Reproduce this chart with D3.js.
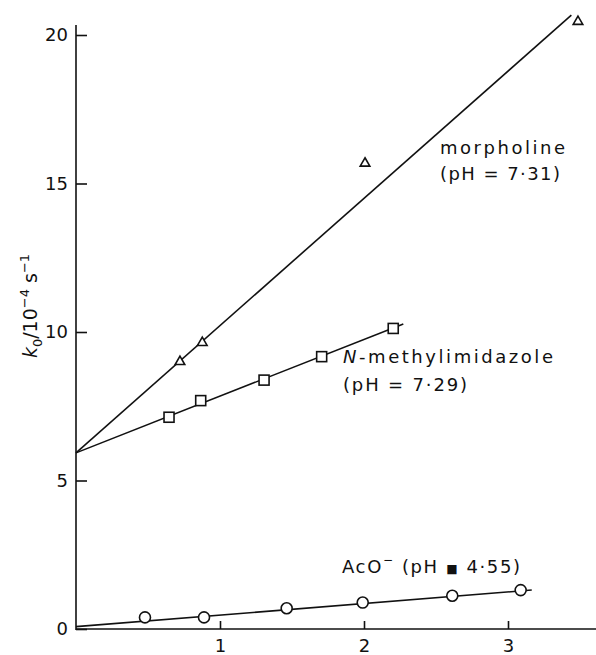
<!DOCTYPE html>
<html>
<head>
<meta charset="utf-8">
<script src="https://cdn.jsdelivr.net/npm/d3@7"></script>
<style>
  body { margin: 0; background: #fff; }
  text { font-family: "DejaVu Sans", sans-serif; fill: #111; }
</style>
</head>
<body>
<svg id="chart" width="596" height="655"></svg>
<script>
// data
const xTicks = [1, 2, 3];
const yTicks = [0, 5, 10, 15, 20];

const morphX = [0.722, 0.877, 2.007, 3.486];
const morphY = [9.0, 9.64, 15.68, 20.45];
const morphFit = {x0: 0, x1: 3.44, b: 5.93, m: 4.285};

const nmiX = [0.646, 0.866, 1.306, 1.706, 2.203];
const nmiY = [7.13, 7.69, 8.38, 9.17, 10.12];
const nmiFit = {x0: 0, x1: 2.273, b: 5.93, m: 1.91};

const acoX = [0.479, 0.889, 1.463, 1.991, 2.613, 3.088];
const acoY = [0.39, 0.39, 0.70, 0.89, 1.12, 1.31];
const acoFit = {x0: 0, x1: 3.165, b: 0.08, m: 0.389};

const svg = d3.select('#chart');

// scales
const x = d3.scaleLinear().domain([0, 1]).range([76, 220]);
const y = d3.scaleLinear().domain([0, 20]).range([629, 35]);

// axes, ticks point inward
const xAxis = svg.append('g')
    .attr('transform', 'translate(0,' + y(0) + ')')
    .call(d3.axisBottom(x).tickValues(xTicks).tickSize(-8).tickPadding(10).tickFormat(d3.format('d')));
xAxis.select('.domain').remove();
xAxis.selectAll('line').attr('stroke', '#111').attr('stroke-width', 1.6);
xAxis.selectAll('text').attr('font-size', 18).attr('fill', '#111');

const yAxis = svg.append('g')
    .attr('transform', 'translate(' + x(0) + ',0)')
    .call(d3.axisLeft(y).tickValues(yTicks).tickSize(-11).tickPadding(8));
yAxis.select('.domain').remove();
yAxis.selectAll('line').attr('stroke', '#111').attr('stroke-width', 1.6);
yAxis.selectAll('text').attr('font-size', 18).attr('fill', '#111');

svg.append('line')
    .attr('x1', x(0)).attr('x2', x(0))
    .attr('y1', y(0) + 1).attr('y2', y(20.34))
    .attr('stroke', '#111').attr('stroke-width', 1.6);
svg.append('line')
    .attr('x1', x(0)).attr('x2', 596)
    .attr('y1', y(0)).attr('y2', y(0))
    .attr('stroke', '#111').attr('stroke-width', 1.6);

// y axis title
const yl = svg.append('text')
    .attr('transform', 'translate(37,306) rotate(-90)')
    .attr('text-anchor', 'middle')
    .attr('font-size', 19);
yl.append('tspan').attr('font-style', 'italic').text('k');
yl.append('tspan').attr('font-size', 13).attr('dy', 5).text('0');
yl.append('tspan').attr('dy', -5).text('/10');
yl.append('tspan').attr('font-size', 13).attr('dy', -8).text('\u22124');
yl.append('tspan').attr('dy', 8).text(' s');
yl.append('tspan').attr('font-size', 13).attr('dy', -8).text('\u22121');

// fitted lines
function fitLine(f) {
  svg.append('line')
      .attr('x1', x(f.x0)).attr('y1', y(f.b + f.m * f.x0))
      .attr('x2', x(f.x1)).attr('y2', y(f.b + f.m * f.x1))
      .attr('stroke', '#111').attr('stroke-width', 1.6);
}
fitLine(morphFit);
fitLine(nmiFit);
fitLine(acoFit);

// markers
svg.selectAll('.tri')
    .data(d3.zip(morphX, morphY))
    .enter().append('path')
    .attr('d', d3.symbol().type(d3.symbolTriangle).size(40))
    .attr('transform', d => 'translate(' + x(d[0]) + ',' + y(d[1]) + ')')
    .attr('fill', '#fff').attr('stroke', '#111').attr('stroke-width', 1.6);

svg.selectAll('.sq')
    .data(d3.zip(nmiX, nmiY))
    .enter().append('rect')
    .attr('x', d => x(d[0]) - 5).attr('y', d => y(d[1]) - 5)
    .attr('width', 10).attr('height', 10)
    .attr('fill', '#fff').attr('stroke', '#111').attr('stroke-width', 1.6);

svg.selectAll('.circ')
    .data(d3.zip(acoX, acoY))
    .enter().append('circle')
    .attr('cx', d => x(d[0])).attr('cy', d => y(d[1]))
    .attr('r', 5.5)
    .attr('fill', '#fff').attr('stroke', '#111').attr('stroke-width', 1.6);

// labels
function label(tx, ty, w, parts) {
  const t = svg.append('text')
      .attr('x', tx).attr('y', ty)
      .attr('font-size', 18)
      .attr('textLength', w).attr('lengthAdjust', 'spacing');
  parts.forEach(p => {
    const s = t.append('tspan').text(p.t);
    if (p.i) s.attr('font-style', 'italic');
    if (p.dy) s.attr('dy', p.dy);
    if (p.fs) s.attr('font-size', p.fs);
  });
}
label(440, 154, 125, [{t: 'morpholine'}]);
label(440, 180, 120, [{t: '(pH = 7\u00b731)'}]);
label(343, 363, 210, [{t: 'N', i: true}, {t: '-methylimidazole'}]);
label(343, 391, 124, [{t: '(pH = 7\u00b729)'}]);
label(342, 573, 178, [{t: 'AcO'}, {t: '\u2212', fs: 12, dy: -9}, {t: ' (pH ', dy: 9}, {t: '\u25a0', fs: 12}, {t: ' 4\u00b755)'}]);
</script>
</body>
</html>
